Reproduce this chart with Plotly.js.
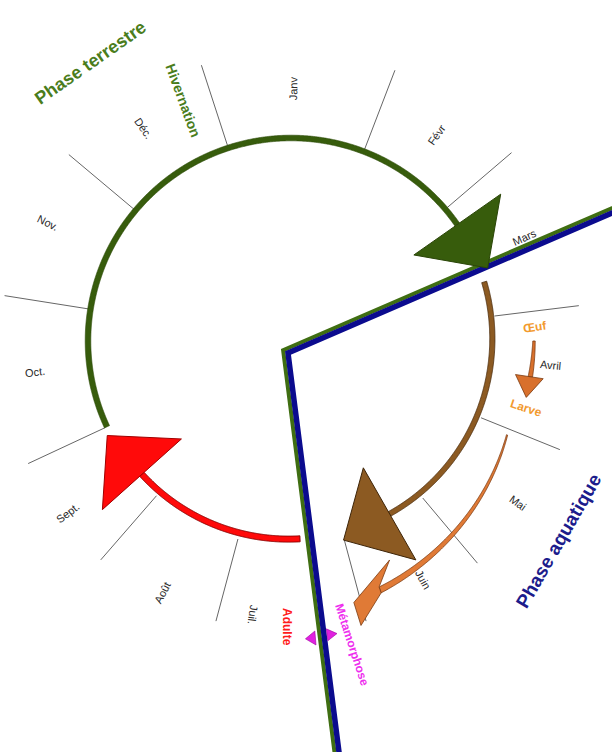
<!DOCTYPE html>
<html><head><meta charset="utf-8">
<script src="https://cdn.plot.ly/plotly-3.0.1.min.js"></script>
<style>html,body{margin:0;padding:0;background:#fff}#chart{width:612px;height:752px}</style>
</head><body><div id="chart"></div>
<script>
// ---------- data ----------
const months = ['Janv','Févr','Mars','Avril','Mai','Juin','Juil.','Août','Sept.','Oct.','Nov.','Déc.'];
// angle (deg, counter-clockwise from east) where each month starts
const monthStartAngle = [108, 69, 40.5, 7, -22, -50, -75, -105, -131, -155, 171, 140];
// angle and distance of each month label
const monthLabelAngle = [89.5, 54.7, 24, -5.3, -35.5, -61, -98, -117, -142.4, -173, 154, 124.8];
const monthLabelRadius = [253, 252, 256, 261, 279, 273, 277, 282, 282, 258, 270, 259];
// life-cycle arcs (clockwise), start and end angles
const cycleNames = ['Phase terrestre', 'Phase aquatique', 'Adulte'];
const cycleFrom = [205, 17, 272.6];
const cycleTo   = [35, -60.3, 221.8];
// stage arrows
const eggLarvaFrom = 0, eggLarvaTo = -8.5;
const metaFrom = -23.5, metaTo = -70.3;
const adultFrom = -85.3, adultTo = -83;

// ---------- geometry helpers ----------
const CX = 291, CY = 341;
function P(a, r){ const t = a*Math.PI/180; return [CX + r*Math.cos(t), CY - r*Math.sin(t)]; }
function frame(a){ const t=a*Math.PI/180; return {rad:[Math.cos(t), -Math.sin(t)], tan:[Math.sin(t), Math.cos(t)]}; }
function head(a, r, w, L, dir){
  const E=P(a,r), f=frame(a), s=dir||1;
  const b1=[E[0]-w*f.rad[0], E[1]-w*f.rad[1]];
  const b2=[E[0]+w*f.rad[0], E[1]+w*f.rad[1]];
  const tp=[E[0]+s*L*f.tan[0], E[1]+s*L*f.tan[1]];
  return {x:[b1[0],tp[0],b2[0],b1[0]], y:[b1[1],tp[1],b2[1],b1[1]]};
}
function local(a, r, tt, nn){
  const E=P(a,r), f=frame(a);
  return [E[0]+tt*f.tan[0]+nn*f.rad[0], E[1]+tt*f.tan[1]+nn*f.rad[1]];
}
function taper(a0, a1, r0, r1, w0, w1, n){
  const xs=[], ys=[];
  for(let k=0;k<=n;k++){ const f=k/n, p=P(a0+(a1-a0)*f, r0+(r1-r0)*f+(w0+(w1-w0)*f)); xs.push(p[0]); ys.push(p[1]); }
  for(let k=n;k>=0;k--){ const f=k/n, p=P(a0+(a1-a0)*f, r0+(r1-r0)*f-(w0+(w1-w0)*f)); xs.push(p[0]); ys.push(p[1]); }
  xs.push(xs[0]); ys.push(ys[0]);
  return {x:xs, y:ys};
}

const traces = [];
function poly(o, fill, line, lw){ traces.push({x:o.x, y:o.y, mode:'lines', fill:'toself', fillcolor:fill, line:{color:line, width:lw, simplify:false}, hoverinfo:'skip'}); }
function stroke(o, color, w){ traces.push({x:o.x, y:o.y, mode:'lines', line:{color:color, width:w}, hoverinfo:'skip'}); }

// month separators
{ const xs=[], ys=[];
  monthStartAngle.forEach(a=>{ const p=P(a,205), q=P(a,290); xs.push(p[0],q[0],null); ys.push(p[1],q[1],null); });
  stroke({x:xs,y:ys}, '#666666', 1); }

// phase boundary (double line)
{ const C=[288,353], d1=[324,-140], d2=[51,399];
  const L1=Math.hypot(...d1), L2=Math.hypot(...d2);
  const u1=[d1[0]/L1,d1[1]/L1], u2=[d2[0]/L2,d2[1]/L2];
  const n1=[u1[1],-u1[0]], n2=[-u2[1],u2[0]];
  const dot=n1[0]*n2[0]+n1[1]*n2[1];
  const o=4.5, m=[(n1[0]+n2[0])/(1+dot)*o, (n1[1]+n2[1])/(1+dot)*o];
  const A=[C[0]+u1[0]*420, C[1]+u1[1]*420], B=[C[0]+u2[0]*460, C[1]+u2[1]*460];
  stroke({x:[A[0]+n1[0]*o, C[0]+m[0], B[0]+n2[0]*o], y:[A[1]+n1[1]*o, C[1]+m[1], B[1]+n2[1]*o]}, '#3f6e12', 4);
  stroke({x:[A[0], C[0], B[0]], y:[A[1], C[1], B[1]]}, '#0b0b8e', 5.5);
}

// green arc + head
poly(taper(cycleFrom[0], cycleTo[0], 203, 203, 2.8, 2.8, 600), '#375c0c', '#2c4a09', 0.6);
poly(head(cycleTo[0], 203, 53, 53), '#375c0c', '#2a4508', 1);
// brown arc + head
poly(taper(cycleFrom[1], cycleTo[1], 202, 199, 2.6, 2.6, 300), '#8c5a22', '#4a2c0e', 0.8);
poly(head(cycleTo[1], 199, 53, 53), '#8c5a22', '#3d2408', 1);
// red arc + head
poly(taper(cycleFrom[2], cycleTo[2], 198, 200, 3, 3, 300), '#ff0a0a', '#8a0000', 1);
poly(head(cycleTo[2], 200, 53, 52), '#ff0a0a', '#a00000', 1);

// egg -> larva arrow
poly(taper(eggLarvaFrom, eggLarvaTo, 243, 242, 1.2, 2.2, 40), '#d8702c', '#7a3a10', 0.8);
poly(head(eggLarvaTo, 241, 14, 21), '#d8702c', '#7a3a10', 0.8);

// metamorphosis arrow (tapered spiral)
{ const r1=264.4;
  poly(taper(metaFrom, metaTo, 235.6, r1, 0.6, 3.1, 200), '#e07a36', '#7a3a10', 0.8);
  const hb=[local(metaTo,r1,0,-3.1), local(metaTo,r1,-19,-25), local(metaTo,r1,29,3), local(metaTo,r1,30,27), local(metaTo,r1,0,3.1)];
  hb.push(hb[0]);
  poly({x:hb.map(p=>p[0]), y:hb.map(p=>p[1])}, '#e07a36', '#7a3a10', 0.8);
}

// adult double arrow (magenta)
poly(head(adultFrom, 298, 7, 10), '#e020e0', '#a000a0', 0.6);
poly(head(adultTo, 296, 6, 10, -1), '#e020e0', '#a000a0', 0.6);

// ---------- annotations ----------
const FONT = 'Arial, "Liberation Sans", sans-serif';
const ann = [];
months.forEach((m,i)=>{
  const a=monthLabelAngle[i], p=P(a, monthLabelRadius[i]);
  const a360=((a%360)+360)%360;
  let ta=-a; if(a360>95 && a360<260) ta+=180;
  ta=((ta+180)%360+360)%360-180;
  ann.push({x:p[0], y:p[1], text:m, textangle:ta, showarrow:false, xanchor:'center', yanchor:'middle',
            font:{family:FONT, size:11, color:'#2a2a2a'}});
});
function T(x,y,text,ang,size,color,bold){
  ann.push({x:x,y:y,text:bold?'<b>'+text+'</b>':text,textangle:ang,showarrow:false,xanchor:'center',yanchor:'middle',
            font:{family:FONT,size:size,color:color}});
}
T(90,63,cycleNames[0],-35,18,'#4a7d1c',true);
T(183,100,'Hivernation',70,14,'#4a7d1c',true);
T(558,541,cycleNames[1],-60,19,'#1c1c8c',true);
T(535,327,'Œuf',-8,12,'#f29a2e',true);
T(526,408,'Larve',18,12,'#f29a2e',true);
T(352,645,'Métamorphose',72,12,'#ee30ee',true);
T(287,627,cycleNames[2],90,12,'#ff1a1a',true);

const layout = {
  width:612, height:752, margin:{l:0,r:0,t:0,b:0}, showlegend:false,
  paper_bgcolor:'#ffffff', plot_bgcolor:'#ffffff',
  xaxis:{range:[0,612], visible:false, fixedrange:true},
  yaxis:{range:[752,0], visible:false, fixedrange:true},
  annotations:ann
};
Plotly.newPlot('chart', traces, layout, {staticPlot:true, displayModeBar:false});
</script></body></html>
